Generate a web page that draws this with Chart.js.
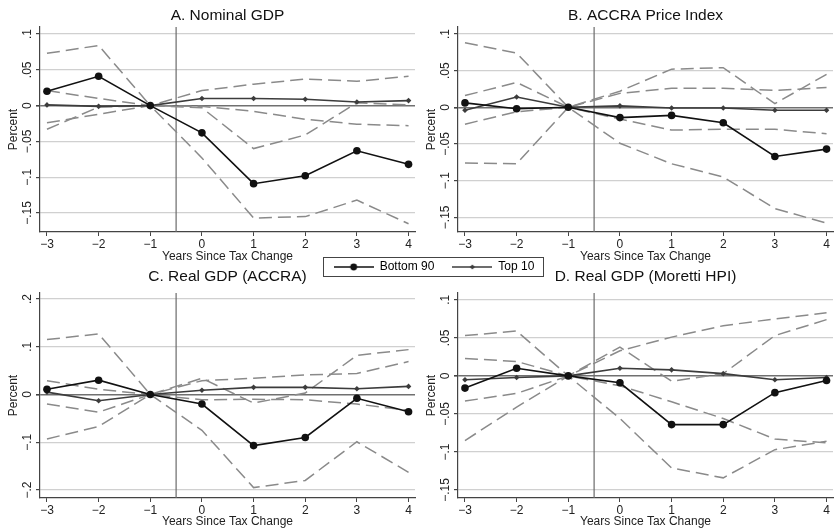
<!DOCTYPE html>
<html>
<head>
<meta charset="utf-8">
<script src="https://cdn.jsdelivr.net/npm/chart.js@4.4.1/dist/chart.umd.min.js"></script>
<style>
  html, body { margin: 0; padding: 0; background: #fff; }
  #wrap { position: relative; width: 837px; height: 532px; overflow: hidden; }
  #wrap > canvas { position: absolute; }
  #legendBox { position: absolute; left: 323px; top: 257px; width: 219px; height: 18px; border: 1px solid #444; overflow: hidden; background: #fff; }
  #legendBox canvas { position: absolute; left: -20px; top: -15px; }
</style>
</head>
<body>
<div id="wrap">
  <canvas id="panelA" width="419" height="264" style="left:0;top:0"></canvas>
  <canvas id="panelB" width="419" height="264" style="left:418px;top:0"></canvas>
  <canvas id="panelC" width="419" height="268" style="left:0;top:264px"></canvas>
  <canvas id="panelD" width="419" height="268" style="left:418px;top:264px"></canvas>
  <div id="legendBox"><canvas id="legend" width="260" height="60"></canvas></div>
</div>
<script>
const years = [-3, -2, -1, 0, 1, 2, 3, 4];
const treatLine = -0.5;
const yTicksSmall = [-0.15, -0.1, -0.05, 0, 0.05, 0.1];
const yTicksWide = [-0.2, -0.1, 0, 0.1, 0.2];

// A. Nominal GDP
const nomB90   = [0.020, 0.041, 0, -0.038, -0.109, -0.098, -0.063, -0.082];
const nomB90Hi = [0.073, 0.084, 0, -0.003, -0.060, -0.041, 0.004, 0.001];
const nomB90Lo = [-0.033, -0.002, 0, -0.073, -0.157, -0.155, -0.132, -0.165];
const nomT10   = [0.001, -0.001, 0, 0.010, 0.010, 0.009, 0.005, 0.007];
const nomT10Hi = [0.021, 0.010, 0, 0.021, 0.030, 0.037, 0.034, 0.041];
const nomT10Lo = [-0.024, -0.012, 0, -0.001, -0.008, -0.019, -0.026, -0.028];

// B. ACCRA Price Index
const accB90   = [0.006, -0.002, 0, -0.014, -0.011, -0.021, -0.067, -0.057];
const accB90Hi = [0.088, 0.074, 0, 0.022, 0.052, 0.054, 0.005, 0.045];
const accB90Lo = [-0.076, -0.077, 0, -0.049, -0.077, -0.095, -0.138, -0.158];
const accT10   = [-0.004, 0.014, 0, 0.002, -0.001, -0.001, -0.004, -0.004];
const accT10Hi = [0.016, 0.034, 0, 0.019, 0.026, 0.026, 0.023, 0.027];
const accT10Lo = [-0.023, -0.006, 0, -0.016, -0.031, -0.030, -0.030, -0.036];

// C. Real GDP (ACCRA)
const rgaB90   = [0.011, 0.030, 0, -0.020, -0.107, -0.090, -0.008, -0.036];
const rgaB90Hi = [0.115, 0.127, 0, 0.034, -0.018, 0.003, 0.082, 0.094];
const rgaB90Lo = [-0.093, -0.067, 0, -0.075, -0.195, -0.180, -0.099, -0.163];
const rgaT10   = [0.005, -0.013, 0, 0.009, 0.015, 0.015, 0.012, 0.017];
const rgaT10Hi = [0.029, 0.011, 0, 0.029, 0.034, 0.041, 0.044, 0.069];
const rgaT10Lo = [-0.020, -0.037, 0, -0.011, -0.010, -0.011, -0.020, -0.033];

// D. Real GDP (Moretti HPI)
const rgmB90   = [-0.016, 0.010, 0, -0.009, -0.064, -0.064, -0.022, -0.006];
const rgmB90Hi = [0.053, 0.059, 0, 0.038, -0.007, 0.003, 0.053, 0.074];
const rgmB90Lo = [-0.085, -0.041, 0, -0.056, -0.121, -0.134, -0.097, -0.086];
const rgmT10   = [-0.005, -0.002, 0, 0.010, 0.008, 0.003, -0.005, -0.002];
const rgmT10Hi = [0.023, 0.019, 0, 0.033, 0.051, 0.066, 0.075, 0.083];
const rgmT10Lo = [-0.033, -0.023, 0, -0.013, -0.034, -0.056, -0.083, -0.088];

Chart.defaults.font.family = "'Liberation Sans', Arial, sans-serif";
Chart.defaults.color = '#222';

const MINUS = '\u2212';
function fmtY(v) {
    if (v === 0) return '0';
    const s = String(Math.abs(+v.toFixed(3))).replace(/^0/, '');
    return (v < 0 ? MINUS : '') + s;
}
function fmtX(v) {
    return v < 0 ? MINUS + Math.abs(v) : String(v);
}
const pts = arr => years.map((x, i) => ({ x: x, y: arr[i] }));

// vertical line at the tax change
const treatLinePlugin = {
    id: 'treatLine',
    beforeDatasetsDraw(chart) {
        const { ctx, chartArea } = chart;
        const px = chart.scales.x.getPixelForValue(treatLine);
        ctx.save();
        ctx.strokeStyle = '#6a6a6a';
        ctx.lineWidth = 1.2;
        ctx.beginPath();
        ctx.moveTo(px, chartArea.top);
        ctx.lineTo(px, chartArea.bottom);
        ctx.stroke();
        ctx.restore();
    }
};

function ciSet(arr) {
    return {
        data: pts(arr),
        borderColor: '#8a8a8a',
        borderWidth: 1.5,
        borderDash: [13, 6],
        pointRadius: 0,
        fill: false
    };
}

function fillPanel(id, title, b90, b90Hi, b90Lo, t10, t10Hi, t10Lo, yTicks, yMin, yMax, lay) {
    const ctx = document.getElementById(id).getContext('2d');
    return new Chart(ctx, {
        type: 'line',
        data: {
            datasets: [
                {
                    label: 'Bottom 90',
                    data: pts(b90),
                    borderColor: '#111',
                    backgroundColor: '#111',
                    borderWidth: 1.6,
                    pointRadius: 3.8,
                    pointBorderWidth: 0,
                    pointStyle: 'circle'
                },
                {
                    label: 'Top 10',
                    data: pts(t10),
                    borderColor: '#3c3c3c',
                    backgroundColor: '#3c3c3c',
                    borderWidth: 1.6,
                    pointRadius: 2.8,
                    pointBorderWidth: 0,
                    pointStyle: 'rectRot'
                },
                ciSet(b90Hi),
                ciSet(b90Lo),
                ciSet(t10Hi),
                ciSet(t10Lo)
            ]
        },
        options: {
            responsive: false,
            animation: false,
            events: [],
            layout: { padding: 0 },
            scales: {
                x: {
                    type: 'linear',
                    min: -3.135,
                    max: 4.125,
                    afterBuildTicks: s => { s.ticks = years.map(v => ({ value: v })); },
                    afterFit: s => { s.height = lay.xHeight; },
                    grid: { drawOnChartArea: false, drawTicks: true, tickLength: 4, tickColor: '#444' },
                    border: { display: true, color: '#444', width: 1.2 },
                    ticks: { autoSkip: false, maxRotation: 0, padding: 1, font: { size: 12 }, color: '#222', callback: v => fmtX(v) },
                    title: { display: true, text: 'Years Since Tax Change', font: { size: 12 }, color: '#222', padding: { top: 0, bottom: lay.xTitleBottom } }
                },
                y: {
                    type: 'linear',
                    min: yMin,
                    max: yMax,
                    afterBuildTicks: s => { s.ticks = yTicks.map(v => ({ value: v })); },
                    afterFit: s => { s.width = 40; },
                    grid: {
                        color: c => (c.tick && c.tick.value === 0) ? '#707070' : '#d0d0d0',
                        lineWidth: c => (c.tick && c.tick.value === 0) ? 1.6 : 1.2,
                        tickLength: 4,
                        tickColor: '#444'
                    },
                    border: { display: true, color: '#444', width: 1.2 },
                    ticks: {
                        autoSkip: false,
                        minRotation: 90,
                        maxRotation: 90,
                        crossAlign: 'center',
                        padding: lay.yTickPad,
                        font: { size: 12 },
                        color: '#222',
                        callback: v => fmtY(v)
                    },
                    title: { display: true, text: 'Percent', font: { size: 12 }, color: '#222', padding: { top: 6, bottom: 0 } }
                }
            },
            plugins: {
                legend: { display: false },
                tooltip: { enabled: false },
                title: {
                    display: true,
                    text: title,
                    fullSize: false,
                    font: { size: 15.5, weight: 'normal' },
                    color: '#111',
                    padding: { top: lay.titleTop, bottom: lay.titleBottom }
                }
            }
        },
        plugins: [treatLinePlugin]
    });
}

const topLay = { titleTop: 6, titleBottom: 2.4, xHeight: 32, xTitleBottom: 0, yTickPad: -3.8 };
const botLay = { titleTop: 3.5, titleBottom: 6.9, xHeight: 34, xTitleBottom: 2.8, yTickPad: -3.8 };

fillPanel('panelA', 'A. Nominal GDP', nomB90, nomB90Hi, nomB90Lo, nomT10, nomT10Hi, nomT10Lo,
    yTicksSmall, -0.1765, 0.1098, topLay);
fillPanel('panelB', 'B. ACCRA Price Index', accB90, accB90Hi, accB90Lo, accT10, accT10Hi, accT10Lo,
    yTicksSmall, -0.170, 0.1095, topLay);
fillPanel('panelC', 'C. Real GDP (ACCRA)', rgaB90, rgaB90Hi, rgaB90Lo, rgaT10, rgaT10Hi, rgaT10Lo,
    yTicksWide, -0.2168, 0.2126, Object.assign({}, botLay, { yTickPad: -0.5 }));
fillPanel('panelD', 'D. Real GDP (Moretti HPI)', rgmB90, rgmB90Hi, rgmB90Lo, rgmT10, rgmT10Hi, rgmT10Lo,
    yTicksSmall, -0.1605, 0.109, botLay);

// legend symbols: line with marker
function legendSymbol(color, style, radius) {
    const c = document.createElement('canvas');
    c.width = 40; c.height = 10;
    const g = c.getContext('2d');
    g.strokeStyle = color;
    g.lineWidth = 1.4;
    g.beginPath();
    g.moveTo(0, 5);
    g.lineTo(40, 5);
    g.stroke();
    g.fillStyle = color;
    Chart.helpers.drawPoint(g, { pointStyle: style, radius: radius, borderWidth: 0 }, 20, 5);
    return c;
}

const legendLabels = ['Bottom 90', 'Top 10'];
const symB90 = legendSymbol('#111', 'circle', 3.4);
const symT10 = legendSymbol('#3c3c3c', 'rectRot', 2.6);

new Chart(document.getElementById('legend').getContext('2d'), {
    type: 'line',
    data: { datasets: legendLabels.map(l => ({ label: l, data: [] })) },
    options: {
        responsive: false,
        animation: false,
        events: [],
        scales: { x: { display: false }, y: { display: false } },
        plugins: {
            tooltip: { enabled: false },
            legend: {
                display: true,
                position: 'top',
                labels: {
                    usePointStyle: true,
                    pointStyleWidth: 40,
                    padding: 18,
                    font: { size: 12 },
                    color: '#222',
                    generateLabels: () => [
                        { text: legendLabels[0], pointStyle: symB90, lineWidth: 0, strokeStyle: 'rgba(0,0,0,0)', fillStyle: 'rgba(0,0,0,0)', hidden: false, datasetIndex: 0 },
                        { text: legendLabels[1], pointStyle: symT10, lineWidth: 0, strokeStyle: 'rgba(0,0,0,0)', fillStyle: 'rgba(0,0,0,0)', hidden: false, datasetIndex: 1 }
                    ]
                }
            }
        }
    }
});
</script>
</body>
</html>
